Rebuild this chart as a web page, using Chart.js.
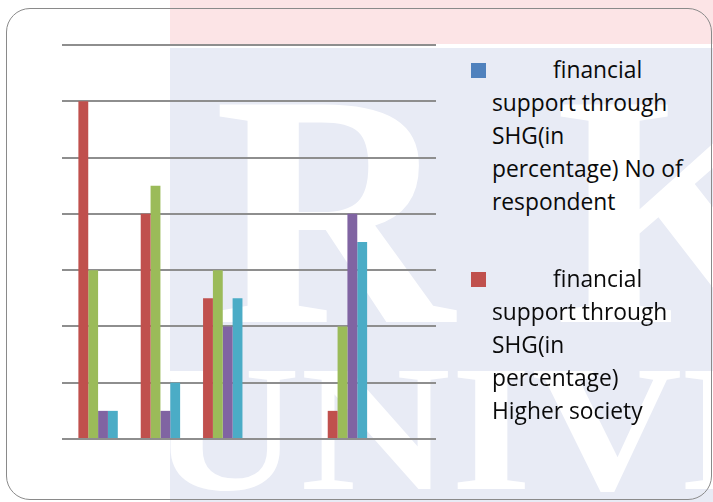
<!DOCTYPE html>
<html>
<head>
<meta charset="utf-8">
<script src="https://cdn.jsdelivr.net/npm/chart.js@4"></script>
<style>
  html, body { margin: 0; padding: 0; background: #fff; }
  body { width: 713px; height: 502px; position: relative; overflow: hidden; }
  .pink { position: absolute; left: 170px; top: 0; width: 543px; height: 44px; background: #fce4e6; }
  .wash { position: absolute; left: 170px; top: 48px; width: 543px; height: 454px; background: #e8ebf5; overflow: hidden; }
  .wash span { position: absolute; color: #fff; font-family: "Liberation Serif", serif; font-weight: bold; line-height: 1; white-space: nowrap; }
  #chartBox { position: absolute; left: 57px; top: 40px; width: 384px; height: 404px; }
  .frame { position: absolute; left: 6px; top: 8px; width: 704px; height: 490px; border: 1.5px solid #8a8a8a; border-radius: 24px; }
  .legend { position: absolute; left: 0; top: 0; font-family: "Open Sans", sans-serif; font-size: 22.8px; color: #0a0a0a; }
  .item { position: absolute; left: 471px; width: 240px; }
  .swatch { position: absolute; left: 0; width: 15px; height: 15px; }
  .text { position: absolute; left: 21px; line-height: 33px; white-space: nowrap; }
</style>
</head>
<body>
<div class="pink"></div>
<div class="wash">
  <span style="left:44px; top:-4px; font-size:332px;">R</span>
  <span style="left:385px; top:-4px; font-size:332px;">K</span>
  <span style="left:-20px; top:290px; font-size:181px; transform-origin:0 0; transform:scaleX(1.15);">UNIVE</span>
</div>
<div id="chartBox"><canvas id="chart"></canvas></div>
<div class="legend" id="legend"></div>
<div class="frame"></div>
<script>
const categories = ['', '', '', '', '', ''];

const seriesNames = [
    'financial support through SHG(in percentage) No of respondent',
    'financial support through SHG(in percentage) Higher society',
    'Series 3',
    'Series 4',
    'Series 5'
];
// how the legend wraps the two visible names
const legendLines = [
    ['financial', 'support through', 'SHG(in', 'percentage) No of', 'respondent'],
    ['financial', 'support through', 'SHG(in', 'percentage)', 'Higher society']
];
const seriesColors = ['#4f81bd', '#c0504d', '#9bbb59', '#8064a2', '#4bacc6'];

const noOfRespondent = [0, 0, 0, 0, 0, 0];
const higherSociety = [6, 4, 2.5, null, 0.5, null];
const series3 = [3, 4.5, 3, null, 2, null];
const series4 = [0.5, 0.5, 2, null, 4, null];
const series5 = [0.5, 1, 2.5, null, 3.5, null];

const seriesValues = [noOfRespondent, higherSociety, series3, series4, series5];

const datasets = seriesValues.map((vals, i) => ({
    label: seriesNames[i],
    data: vals,
    backgroundColor: seriesColors[i],
    borderWidth: 0,
    categoryPercentage: 0.79,
    barPercentage: 1
}));

new Chart(document.getElementById('chart').getContext('2d'), {
    type: 'bar',
    data: { labels: categories, datasets: datasets },
    options: {
        responsive: true,
        maintainAspectRatio: false,
        animation: false,
        layout: { padding: 5 },
        scales: {
            x: { display: false },
            y: {
                min: 0,
                max: 7,
                ticks: { display: false, stepSize: 1 },
                grid: { color: '#8e8e8e', lineWidth: 2, drawTicks: false },
                border: { display: false }
            }
        },
        plugins: {
            legend: { display: false },
            tooltip: { enabled: false }
        }
    }
});

// legend beside the plot, two entries like the original
const legendEl = document.getElementById('legend');
const itemTops = [53, 262];
legendLines.forEach((lines, i) => {
    const item = document.createElement('div');
    item.className = 'item';
    item.style.top = itemTops[i] + 'px';
    const sw = document.createElement('div');
    sw.className = 'swatch';
    sw.style.top = '10px';
    sw.style.background = seriesColors[i];
    item.appendChild(sw);
    const txt = document.createElement('div');
    txt.className = 'text';
    txt.innerHTML = lines.map((l, j) => j === 0 ? '<span style="padding-left:61px">' + l + '</span>' : l).join('<br>');
    item.appendChild(txt);
    legendEl.appendChild(item);
});
</script>
</body>
</html>
